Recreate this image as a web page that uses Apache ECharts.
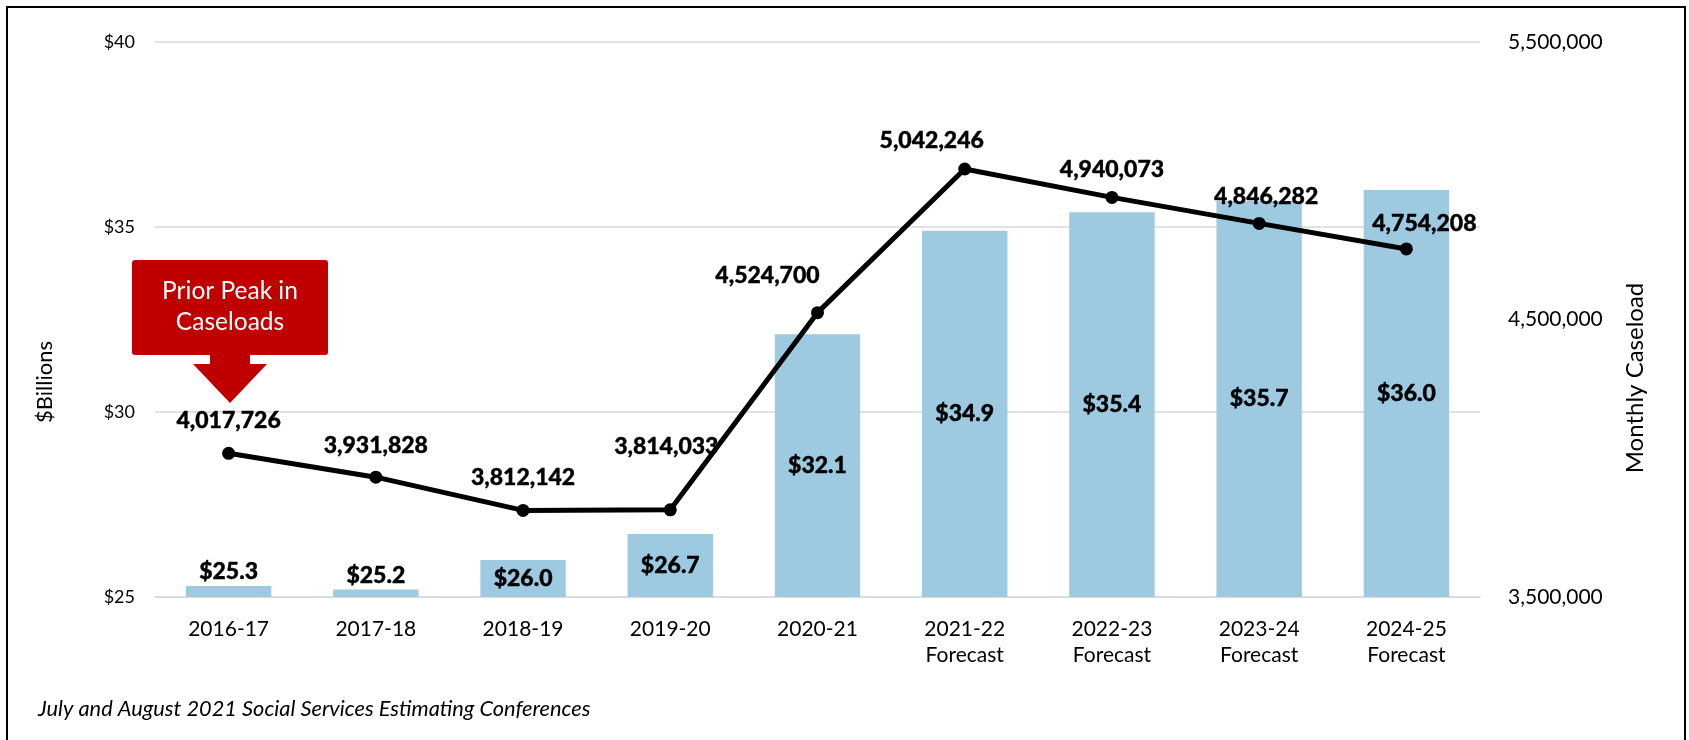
<!DOCTYPE html>
<html>
<head>
<meta charset="utf-8">
<script src="https://cdn.jsdelivr.net/npm/echarts@6/dist/echarts.min.js"></script>
<style>
  html, body { margin: 0; padding: 0; background: #fff; }
  #chart { width: 1689px; height: 740px; }
</style>
</head>
<body>
<div id="chart"></div>
<script>
// ---- data ----
const categories = ['2016-17', '2017-18', '2018-19', '2019-20', '2020-21',
  '2021-22\nForecast', '2022-23\nForecast', '2023-24\nForecast', '2024-25\nForecast'];
const spendingBillions = [25.3, 25.2, 26.0, 26.7, 32.1, 34.9, 35.4, 35.7, 36.0];
const monthlyCaseload = [4017726, 3931828, 3812142, 3814033, 4524700, 5042246, 4940073, 4846282, 4754208];
const leftTicks = { min: 25, max: 40, step: 5 };
const rightTicks = { min: 3500000, max: 5500000, step: 1000000 };
const footnote = 'July and August 2021 Social Services Estimating Conferences';
const calloutText = 'Prior Peak in\nCaseloads';

// ---- styling helpers (not data) ----
const FONT = 'Lato, "Noto Sans", sans-serif';
const lineLabelNudge = [[0, -33], [0, -32], [0, -33], [-4, -63], [-50, -37], [-33, -28], [0, -28], [7, -27], [18, -25]];
const barLabelOutside = [true, true, false, false, false, false, false, false, false];
const fmt = v => v.toString().replace(/\B(?=(\d{3})+(?!\d))/g, ',');

const chart = echarts.init(document.getElementById('chart'), null, { renderer: 'canvas' });

const boldLabel = {
  color: '#000', fontFamily: FONT, fontWeight: 900, fontSize: 23,
  textBorderColor: '#000', textBorderWidth: 0.4
};

const option = {
  animation: false,
  backgroundColor: '#ffffff',
  grid: { left: 155, right: 209, top: 42, bottom: 143, containLabel: false },
  xAxis: {
    type: 'category',
    data: categories,
    boundaryGap: true,
    axisLine: { show: true, lineStyle: { color: '#D9D9D9', width: 1.5 } },
    axisTick: { show: false },
    axisLabel: { color: '#000', fontFamily: FONT, fontSize: 21, lineHeight: 26, margin: 19 }
  },
  yAxis: [
    {
      type: 'value', min: leftTicks.min, max: leftTicks.max, interval: leftTicks.step,
      axisLine: { show: false }, axisTick: { show: false },
      axisLabel: { color: '#000', fontFamily: FONT, fontSize: 18, margin: 20, formatter: v => '$' + v },
      splitLine: { show: true, lineStyle: { color: '#D9D9D9', width: 1.5 } }
    },
    {
      type: 'value', min: rightTicks.min, max: rightTicks.max, interval: rightTicks.step,
      position: 'right',
      axisLine: { show: false }, axisTick: { show: false },
      axisLabel: { color: '#000', fontFamily: FONT, fontSize: 21, margin: 28, formatter: v => fmt(v) },
      splitLine: { show: false }
    }
  ],
  series: [
    {
      type: 'bar',
      yAxisIndex: 0,
      barWidth: '58%',
      itemStyle: { color: '#9DCAE1' },
      data: spendingBillions.map((v, i) => ({
        value: v,
        label: Object.assign({
          show: true,
          position: barLabelOutside[i] ? 'top' : 'inside',
          distance: 3,
          formatter: p => '$' + p.value.toFixed(1)
        }, boldLabel)
      })),
      z: 2
    },
    {
      type: 'line',
      yAxisIndex: 1,
      symbol: 'circle',
      symbolSize: 13,
      lineStyle: { color: '#000', width: 5 },
      itemStyle: { color: '#000' },
      data: monthlyCaseload.map((v, i) => ({
        value: v,
        label: Object.assign({
          show: true,
          position: 'inside',
          offset: lineLabelNudge[i],
          formatter: p => fmt(p.value)
        }, boldLabel)
      })),
      z: 5
    }
  ],
  graphic: [
    { type: 'rect', shape: { x: 7, y: 7, width: 1678, height: 760 },
      style: { fill: 'none', stroke: '#000', lineWidth: 2 }, silent: true, z: 100 },
    { type: 'text', rotation: Math.PI / 2, x: 45, y: 382,
      style: { text: '$Billions', fill: '#000', font: '22px ' + FONT, textAlign: 'center', textVerticalAlign: 'middle' }, z: 10 },
    { type: 'text', rotation: Math.PI / 2, x: 1635, y: 378,
      style: { text: 'Monthly Caseload', fill: '#000', font: '24px ' + FONT, textAlign: 'center', textVerticalAlign: 'middle' }, z: 10 },
    { type: 'text', x: 38, y: 709,
      style: { text: footnote, fill: '#000', font: 'italic 21.8px ' + FONT, textAlign: 'left', textVerticalAlign: 'middle' }, z: 10 },
    { type: 'rect', shape: { x: 132, y: 260, width: 196, height: 95, r: 3 },
      style: { fill: '#C00000' }, z: 20 },
    { type: 'polygon', shape: { points: [[210, 354], [250, 354], [250, 364], [267, 364], [230, 403], [193, 364], [210, 364]] },
      style: { fill: '#C00000' }, z: 20 },
    { type: 'text', x: 230, y: 307,
      style: { text: calloutText, fill: '#fff', font: '24.5px ' + FONT, lineHeight: 31, textAlign: 'center', textVerticalAlign: 'middle' }, z: 21 }
  ]
};

chart.setOption(option);
</script>
</body>
</html>
